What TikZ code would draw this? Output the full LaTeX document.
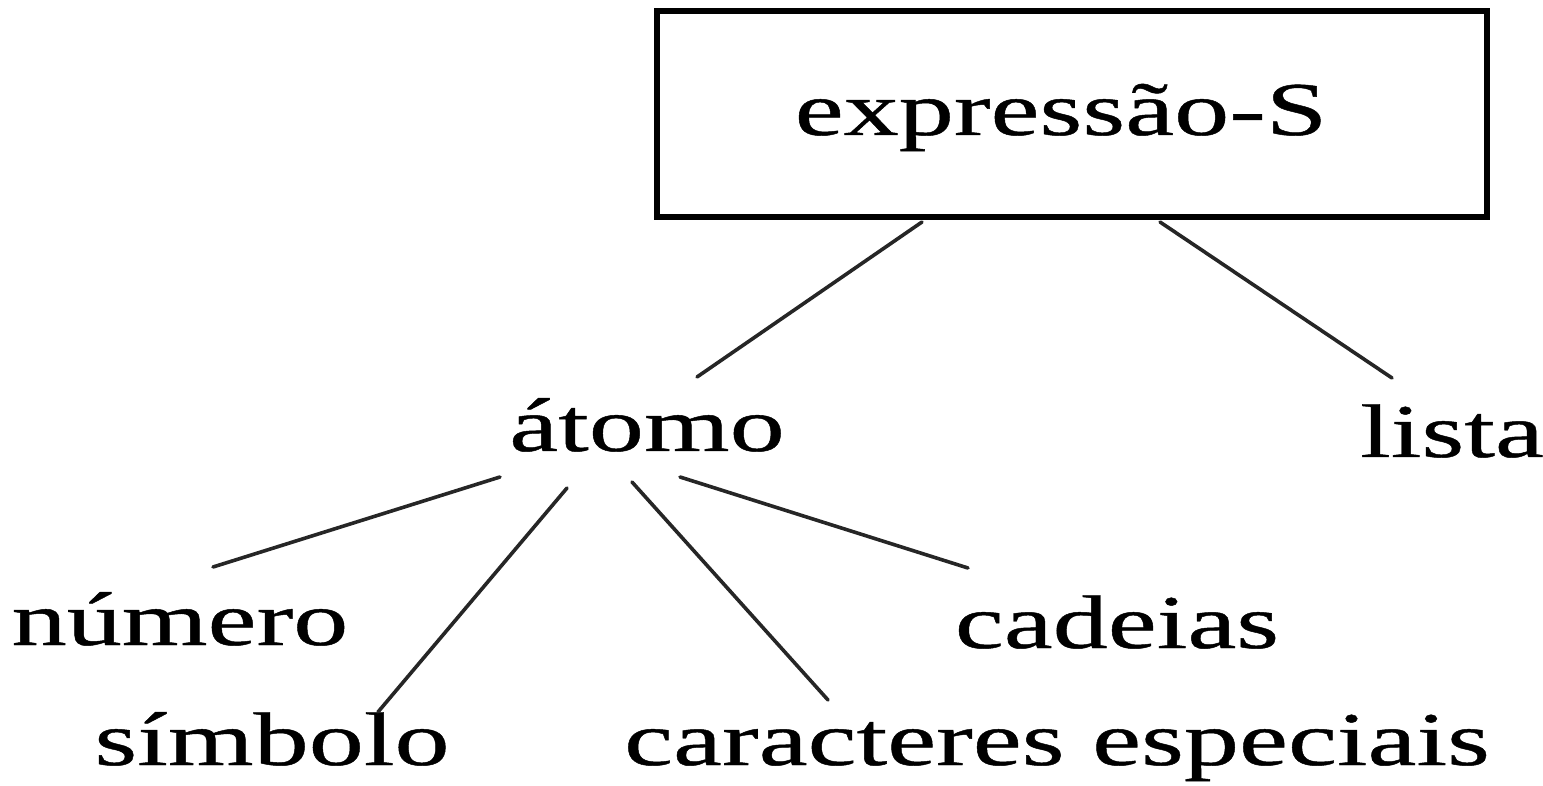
\documentclass[tikz,border=0pt]{standalone}
\usepackage{fontspec}
\setmainfont{Liberation Serif}[FakeStretch=1.45,FakeBold=0.6]
\begin{document}
\begin{tikzpicture}[x=0.5pt,y=-0.5pt,
  word/.style={inner sep=0pt,anchor=base,font=\fontsize{38}{44}\selectfont},
  root/.style={draw,line width=3pt,inner sep=0pt,minimum width=415pt,minimum height=103pt},
  branch/.style={line width=1.8pt,line cap=round,black!85}]
\useasboundingbox (0,0) rectangle (1543,786);

% root box and its label
\node[root] (exprbox) at (1071.5,114) {};
\node[word] (expr) at (1061,135) {expressão-S};

% first level
\node[word] (atomo) at (647,451) {átomo};
\node[word] (lista) at (1452,457) {lista};

% kinds of atoms
\node[word] (numero)  at (180,645)  {número};
\node[word] (cadeias) at (1117,648) {cadeias};
\node[word] (simbolo) at (272,765)  {símbolo};
\node[word] (carac)   at (1057,765) {caracteres especiais};

% connectors
\draw[branch] ([shift={(-149.5,108)}]exprbox.center) -- ([shift={(50,-74)}]atomo.base);
\draw[branch] ([shift={(88.5,108)}]exprbox.center) -- ([shift={(-60,-79)}]lista.base);

\draw[branch] ([shift={(-147,26)}]atomo.base) -- ([shift={(33,-78)}]numero.base);
\draw[branch] ([shift={(-80,37)}]atomo.base) -- ([shift={(106,-53)}]simbolo.base);
\draw[branch] ([shift={(-15,31)}]atomo.base) -- ([shift={(-229,-65)}]carac.base);
\draw[branch] ([shift={(33,26)}]atomo.base) -- ([shift={(-149,-80)}]cadeias.base);
\end{tikzpicture}
\end{document}
